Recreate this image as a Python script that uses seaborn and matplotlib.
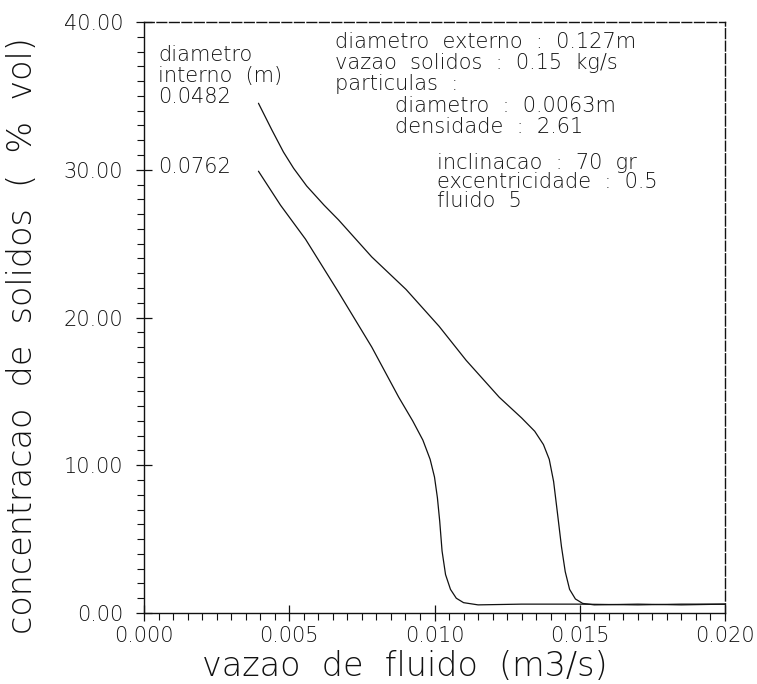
import matplotlib
matplotlib.use("Agg")
import matplotlib.pyplot as plt
import seaborn as sns
import pandas as pd
from matplotlib.ticker import MultipleLocator, FormatStrFormatter

sns.set_theme(style="ticks")
plt.rcParams["font.family"] = ["DejaVu Sans"]
plt.rcParams["font.weight"] = 200

# Solids concentration vs. fluid flow rate, for two inner pipe diameters
q_0482 = [0.00394, 0.00440, 0.00480, 0.00515, 0.00560, 0.00620, 0.00670,
          0.00784, 0.00902, 0.01016, 0.01109, 0.01223, 0.01300, 0.01345,
          0.01375, 0.01395, 0.01410, 0.01423, 0.01437, 0.01450, 0.01465,
          0.01485, 0.01510, 0.01550, 0.01700, 0.01850, 0.02000]
c_0482 = [34.5, 32.7, 31.2, 30.1, 28.9, 27.6, 26.6,
          24.1, 21.9, 19.4, 17.1, 14.6, 13.2, 12.3,
          11.4, 10.4, 8.9, 6.8, 4.5, 2.8, 1.6,
          0.95, 0.65, 0.55, 0.6, 0.55, 0.6]

q_0762 = [0.00394, 0.00470, 0.00556, 0.00670, 0.00784, 0.00877, 0.00925,
          0.00960, 0.00985, 0.01000, 0.01010, 0.01018, 0.01026, 0.01038,
          0.01055, 0.01075, 0.01100, 0.01150, 0.01300, 0.01500, 0.01700,
          0.01850, 0.02000]
c_0762 = [29.9, 27.6, 25.3, 21.7, 18.0, 14.6, 13.0,
          11.7, 10.4, 9.2, 7.8, 6.2, 4.2, 2.6,
          1.6, 1.0, 0.7, 0.55, 0.6, 0.6, 0.55,
          0.6, 0.6]

diam_labels = ["0.0482", "0.0762"]

x_ticks = [0.000, 0.005, 0.010, 0.015, 0.020]
y_ticks = [0.0, 10.0, 20.0, 30.0, 40.0]

df = pd.concat([
    pd.DataFrame({"q": q_0482, "c": c_0482, "d": diam_labels[0]}),
    pd.DataFrame({"q": q_0762, "c": c_0762, "d": diam_labels[1]}),
])

fig = plt.figure(figsize=(7.57, 6.84), dpi=100)
ax = fig.add_axes([144 / 757, 1 - 613 / 684, 581 / 757, 591 / 684])

ink = "#111111"
txt_col = "#111111"
sns.lineplot(data=df, x="q", y="c", units="d", estimator=None, sort=False,
             color=ink, linewidth=0.9, ax=ax, legend=False)

ax.set_xlim(0, 0.020)
ax.set_ylim(0, 40)
ax.set_xticks(x_ticks)
ax.set_yticks(y_ticks)
ax.xaxis.set_major_formatter(FormatStrFormatter("%.3f"))
ax.yaxis.set_major_formatter(FormatStrFormatter("%.2f"))
ax.xaxis.set_minor_locator(MultipleLocator(0.0005))
ax.yaxis.set_minor_locator(MultipleLocator(1.0))

ax.tick_params(axis="both", which="major", direction="inout", length=12,
               width=0.9, color=ink, labelsize=15, labelcolor=txt_col)
ax.tick_params(axis="both", which="minor", direction="out", length=5,
               width=0.8, color=ink)
ax.tick_params(axis="y", which="major", pad=9)
ax.tick_params(axis="x", which="major", pad=3)

for side in ["left", "bottom", "top", "right"]:
    ax.spines[side].set_visible(True)
    ax.spines[side].set_color(ink)
    ax.spines[side].set_linewidth(1.0)
ax.spines["top"].set_linestyle((0, (7, 2)))
ax.spines["right"].set_linestyle((0, (7, 2)))

ax.set_xlabel("")
ax.set_ylabel("")
lab_kw = dict(fontsize=24, color=txt_col)
fig.text(405 / 757, 1 - 666 / 684, "vazao  de  fluido  (m3/s)",
         ha="center", va="center", **lab_kw)
fig.text(23 / 757, 1 - 336 / 684, "concentracao  de  solidos  (  %  vol)",
         ha="center", va="center", rotation=90, **lab_kw)

def at(px, py):
    return ((px - 144) / 581, (613 - py) / 591)

txt_kw = dict(fontsize=15, color=txt_col,
              ha="left", va="center", transform=ax.transAxes)

ax.text(*at(158, 55), "diametro", **txt_kw)
ax.text(*at(158, 76), "interno  (m)", **txt_kw)
ax.text(*at(158, 97), diam_labels[0], **txt_kw)
ax.text(*at(158, 167), diam_labels[1], **txt_kw)

ax.text(*at(335, 42), "diametro  externo  :  0.127m", **txt_kw)
ax.text(*at(335, 63), "vazao  solidos  :  0.15  kg/s", **txt_kw)
ax.text(*at(335, 84), "particulas  :", **txt_kw)
ax.text(*at(395, 106), "diametro  :  0.0063m", **txt_kw)
ax.text(*at(395, 127), "densidade  :  2.61", **txt_kw)
ax.text(*at(437, 163), "inclinacao  :  70  gr", **txt_kw)
ax.text(*at(437, 182), "excentricidade  :  0.5", **txt_kw)
ax.text(*at(437, 201), "fluido  5", **txt_kw)

fig.savefig("out.png", dpi=100, facecolor="white")
